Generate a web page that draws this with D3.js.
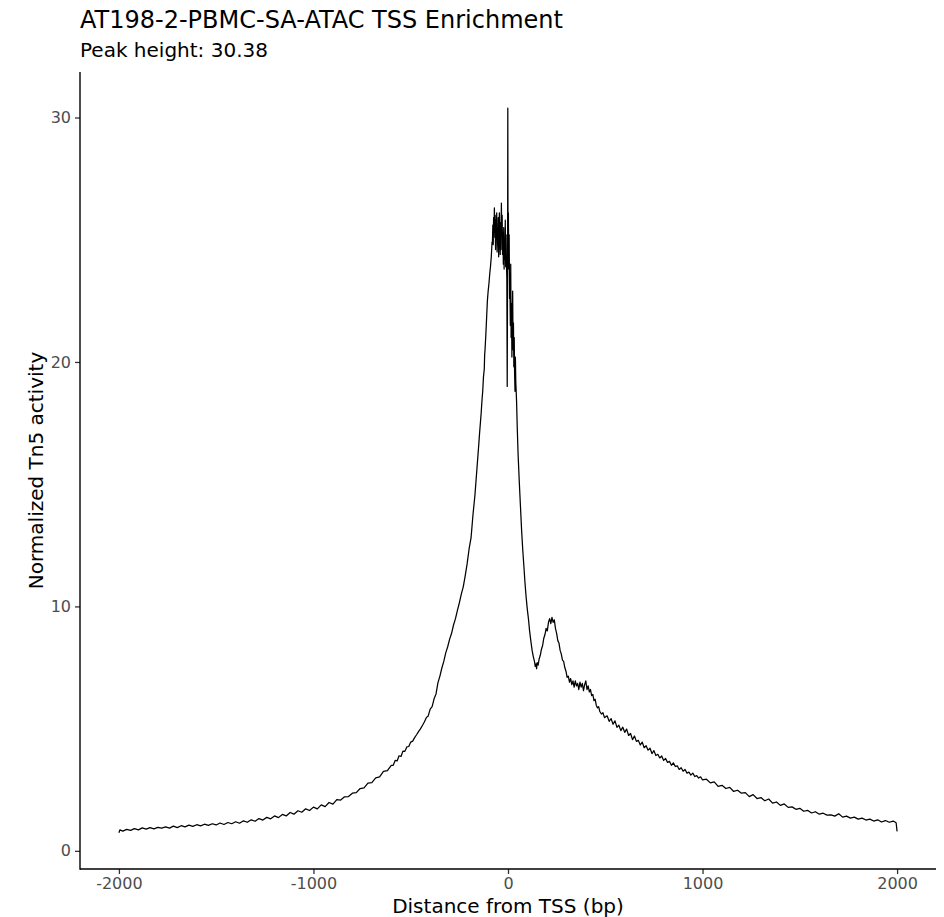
<!DOCTYPE html>
<html lang="en">
<head>
    <meta charset="UTF-8">
    <title>AT198-2-PBMC-SA-ATAC TSS Enrichment</title>
    <script src="https://d3js.org/d3.v7.min.js"></script>
    <style>
        body {
            margin: 0;
            background: #fff;
            font-family: "DejaVu Sans", sans-serif;
        }
        svg { display: block; }
        .tick-label { fill: #4d4d4d; font-size: 16px; }
        .axis-title { fill: #000; font-size: 20px; }
    </style>
</head>
<body>
<svg></svg>
<script>
    const width = 944;
    const height = 917;

    const chartTitle = "AT198-2-PBMC-SA-ATAC TSS Enrichment";
    const chartSubtitle = "Peak height: 30.38";
    const xLabel = "Distance from TSS (bp)";
    const yLabel = "Normalized Tn5 activity";

    const xTicks = [-2000, -1000, 0, 1000, 2000];
    const yTicks = [0, 10, 20, 30];

    // [distance from TSS (bp), normalized Tn5 activity]
    const leftTail = [
        [-2000, 0.74], [-1995, 0.86], [-1980, 0.81], [-1960, 0.88], [-1940, 0.84],
        [-1920, 0.91], [-1900, 0.86], [-1880, 0.94], [-1860, 0.89], [-1840, 0.95],
        [-1820, 0.90], [-1800, 0.96], [-1780, 0.93], [-1760, 0.98], [-1740, 0.93],
        [-1720, 1.01], [-1700, 0.95], [-1680, 1.03], [-1660, 0.98], [-1640, 1.05],
        [-1620, 1.00], [-1600, 1.07], [-1580, 1.02], [-1560, 1.09], [-1540, 1.04],
        [-1520, 1.11], [-1500, 1.06], [-1480, 1.14], [-1460, 1.08], [-1440, 1.16],
        [-1420, 1.11], [-1400, 1.19], [-1380, 1.13], [-1360, 1.23], [-1340, 1.17],
        [-1320, 1.27], [-1300, 1.21], [-1280, 1.32], [-1260, 1.26], [-1240, 1.37],
        [-1220, 1.31], [-1200, 1.43], [-1180, 1.36], [-1160, 1.49], [-1140, 1.43],
        [-1120, 1.57], [-1100, 1.50], [-1080, 1.64], [-1060, 1.58], [-1040, 1.72],
        [-1020, 1.65], [-1000, 1.79], [-980, 1.72], [-960, 1.88], [-940, 1.81],
        [-920, 1.98], [-900, 1.91], [-880, 2.10], [-860, 2.08], [-840, 2.21],
        [-820, 2.22], [-800, 2.36], [-780, 2.38], [-760, 2.55], [-740, 2.58],
        [-720, 2.77], [-700, 2.79], [-680, 2.99], [-660, 3.03], [-640, 3.25],
        [-620, 3.28], [-600, 3.50]
    ];

    const leftFlank = [
        [-590, 3.50], [-580, 3.70], [-570, 3.68], [-560, 3.89], [-550, 3.86],
        [-540, 4.08], [-530, 4.07], [-520, 4.25], [-510, 4.27], [-500, 4.45],
        [-490, 4.49], [-480, 4.63], [-470, 4.75], [-460, 4.88], [-450, 4.99],
        [-440, 5.13], [-430, 5.27], [-420, 5.45], [-410, 5.52], [-400, 5.80],
        [-390, 5.90], [-380, 6.22], [-370, 6.42], [-360, 6.88], [-350, 7.15],
        [-340, 7.48], [-330, 7.75], [-320, 8.10], [-310, 8.35], [-300, 8.66],
        [-290, 8.90], [-280, 9.24], [-270, 9.50], [-260, 9.84], [-250, 10.15],
        [-240, 10.50], [-230, 10.80], [-220, 11.25], [-210, 11.75], [-200, 12.35],
        [-190, 12.80], [-180, 13.75], [-170, 14.55], [-160, 15.60], [-150, 16.65],
        [-146, 17.1], [-142, 17.5], [-138, 17.9], [-134, 18.4], [-130, 18.8],
        [-126, 19.4], [-122, 19.7], [-120, 20.3], [-118, 20.5], [-114, 21.1],
        [-110, 21.8], [-106, 22.5], [-102, 22.9], [-98, 23.2], [-94, 23.6],
        [-90, 23.9], [-86, 24.3], [-82, 24.9]
    ];

    const peakCore = [
        [-80, 24.9], [-78, 25.6], [-76, 24.8], [-74, 25.9], [-72, 25.3],
        [-70, 26.3], [-68, 25.1], [-66, 26.0], [-64, 24.6], [-62, 25.8],
        [-60, 25.0], [-58, 26.1], [-56, 24.5], [-54, 25.4], [-52, 24.8],
        [-50, 25.9], [-48, 24.3], [-46, 25.6], [-44, 26.1], [-42, 25.0],
        [-40, 24.4], [-38, 25.7], [-36, 24.6], [-34, 26.5], [-32, 25.2],
        [-30, 26.0], [-28, 24.4], [-26, 25.3], [-24, 24.0], [-22, 25.5],
        [-20, 23.8], [-18, 25.0], [-16, 24.2], [-14, 25.8], [-12, 23.9],
        [-10, 25.2], [-8, 24.0], [-6, 23.4], [-4, 19.0], [-2, 24.5],
        [-1, 30.38], [0, 25.5], [2, 26.1], [4, 23.8], [6, 25.2],
        [8, 22.6], [10, 23.1], [12, 21.5], [14, 24.0], [16, 21.0],
        [18, 22.4], [20, 20.2], [22, 21.8], [24, 22.9], [26, 20.5],
        [28, 21.6], [30, 19.8], [32, 21.0], [34, 19.5], [36, 18.8],
        [38, 20.2], [40, 19.2], [44, 18.4], [48, 17.2]
    ];

    const rightFlank = [
        [52, 16.2], [58, 15.1], [64, 14.1], [70, 13.1], [76, 12.3],
        [82, 11.6], [87, 11.0], [93, 10.4], [99, 9.9], [105, 9.5],
        [111, 9.0], [118, 8.55], [124, 8.2], [130, 7.95], [136, 7.75],
        [140, 7.55], [144, 7.65], [147, 7.45], [150, 7.7], [155, 7.6],
        [160, 7.85], [166, 8.0], [172, 8.25], [178, 8.4], [184, 8.7],
        [190, 8.85], [196, 9.1], [202, 9.0], [208, 9.35], [214, 9.5],
        [220, 9.3], [226, 9.55], [232, 9.35], [238, 9.45], [244, 9.1],
        [250, 8.9], [256, 8.6], [262, 8.5], [268, 8.2], [274, 8.05],
        [280, 7.8], [286, 7.75], [292, 7.5], [298, 7.35], [304, 7.1],
        [310, 7.15], [316, 6.9], [322, 7.05], [328, 6.8], [334, 6.95],
        [340, 6.7], [346, 6.95], [352, 6.75], [358, 6.85], [364, 6.6],
        [370, 6.9], [376, 6.7], [382, 6.85], [388, 6.55], [394, 6.8],
        [400, 6.95], [406, 6.6], [412, 6.75], [418, 6.5], [424, 6.6],
        [430, 6.35], [436, 6.4], [442, 6.15], [448, 6.2], [454, 5.95],
        [460, 5.85], [466, 5.9], [472, 5.7], [480, 5.6], [488, 5.65],
        [496, 5.45], [504, 5.5]
    ];

    const rightTail = [
        [510, 5.52], [520, 5.30], [530, 5.41], [540, 5.18], [550, 5.32],
        [560, 5.05], [570, 5.14], [580, 4.92], [590, 5.06], [600, 4.85],
        [610, 4.98], [620, 4.72], [630, 4.80], [640, 4.55], [650, 4.70],
        [660, 4.48], [670, 4.52], [680, 4.33], [690, 4.45], [700, 4.22],
        [710, 4.30], [720, 4.12], [730, 4.20], [740, 3.98], [750, 4.10],
        [760, 3.90], [770, 3.95], [780, 3.80], [790, 3.88], [800, 3.70],
        [810, 3.78], [820, 3.62], [830, 3.66], [840, 3.50], [850, 3.60],
        [860, 3.45], [870, 3.48], [880, 3.33], [890, 3.40], [900, 3.26],
        [910, 3.33], [920, 3.18], [930, 3.22], [940, 3.10], [950, 3.18],
        [960, 3.04], [970, 3.08], [980, 2.98], [990, 3.03], [1000, 2.90],
        [1020, 2.93], [1040, 2.78], [1060, 2.82], [1080, 2.64], [1100, 2.68],
        [1120, 2.55], [1140, 2.60], [1160, 2.43], [1180, 2.48], [1200, 2.36],
        [1220, 2.38], [1240, 2.22], [1260, 2.30], [1280, 2.14], [1300, 2.18],
        [1320, 2.05], [1340, 2.12], [1360, 1.95], [1380, 2.00], [1400, 1.86],
        [1420, 1.92], [1440, 1.78], [1460, 1.80], [1480, 1.70], [1500, 1.74],
        [1520, 1.62], [1540, 1.66], [1560, 1.55], [1580, 1.60], [1600, 1.50],
        [1620, 1.54], [1640, 1.46], [1660, 1.47], [1680, 1.42], [1700, 1.52],
        [1720, 1.38], [1740, 1.42], [1760, 1.34], [1780, 1.38], [1800, 1.30],
        [1820, 1.34], [1840, 1.26], [1860, 1.30], [1880, 1.22], [1900, 1.27],
        [1920, 1.18], [1940, 1.24], [1960, 1.17], [1980, 1.22], [1995, 1.15],
        [2000, 0.80]
    ];

    const profile = [...leftTail, ...leftFlank, ...peakCore, ...rightFlank, ...rightTail];

    // panel edges, ggplot style
    const margin = { top: 72, right: 8, bottom: 48, left: 80 };

    const svg = d3.select("svg")
        .attr("width", width)
        .attr("height", height);

    // 5% expansion on both axes like ggplot
    const xExt = d3.extent(profile, d => d[0]);
    const yExt = d3.extent(profile, d => d[1]);
    const xPad = (xExt[1] - xExt[0]) * 0.05;
    const yPad = (yExt[1] - yExt[0]) * 0.05;

    const x = d3.scaleLinear()
        .domain([xExt[0] - xPad, xExt[1] + xPad])
        .range([margin.left, width - margin.right]);

    const y = d3.scaleLinear()
        .domain([yExt[0] - yPad, yExt[1] + yPad])
        .range([height - margin.bottom, margin.top]);

    const line = d3.line()
        .x(d => x(d[0]))
        .y(d => y(d[1]));

    svg.append("path")
        .datum(profile)
        .attr("fill", "none")
        .attr("stroke", "#000")
        .attr("stroke-width", 1.25)
        .attr("stroke-linejoin", "round")
        .attr("d", line);

    const xAxis = svg.append("g")
        .attr("transform", `translate(0,${height - margin.bottom})`)
        .call(d3.axisBottom(x).tickValues(xTicks).tickSize(5).tickPadding(4).tickFormat(d3.format("d")));

    const yAxis = svg.append("g")
        .attr("transform", `translate(${margin.left},0)`)
        .call(d3.axisLeft(y).tickValues(yTicks).tickSize(5).tickPadding(4).tickFormat(d3.format("d")));

    [xAxis, yAxis].forEach(g => {
        g.select(".domain").remove();
        g.selectAll(".tick line").attr("stroke", "#333").attr("stroke-width", 1.3);
        g.selectAll(".tick text")
            .attr("class", "tick-label")
            .style("font-family", "DejaVu Sans")
            .text(d => String(d));
    });
    xAxis.selectAll(".tick text").attr("dy", "0.71em");

    // axis lines (theme_classic)
    svg.append("line")
        .attr("x1", margin.left).attr("x2", width - margin.right)
        .attr("y1", height - margin.bottom).attr("y2", height - margin.bottom)
        .attr("stroke", "#000").attr("stroke-width", 1.4);
    svg.append("line")
        .attr("x1", margin.left).attr("x2", margin.left)
        .attr("y1", margin.top).attr("y2", height - margin.bottom + 0.7)
        .attr("stroke", "#000").attr("stroke-width", 1.4);

    svg.append("text")
        .attr("x", 80).attr("y", 28)
        .style("font-size", "24px")
        .text(chartTitle);

    svg.append("text")
        .attr("x", 80).attr("y", 56.5)
        .style("font-size", "20px")
        .text(chartSubtitle);

    svg.append("text")
        .attr("class", "axis-title")
        .attr("x", (margin.left + width - margin.right) / 2)
        .attr("y", 913)
        .attr("text-anchor", "middle")
        .text(xLabel);

    svg.append("text")
        .attr("class", "axis-title")
        .attr("transform", `translate(43,${(margin.top + height - margin.bottom) / 2}) rotate(-90)`)
        .attr("text-anchor", "middle")
        .text(yLabel);
</script>
</body>
</html>
